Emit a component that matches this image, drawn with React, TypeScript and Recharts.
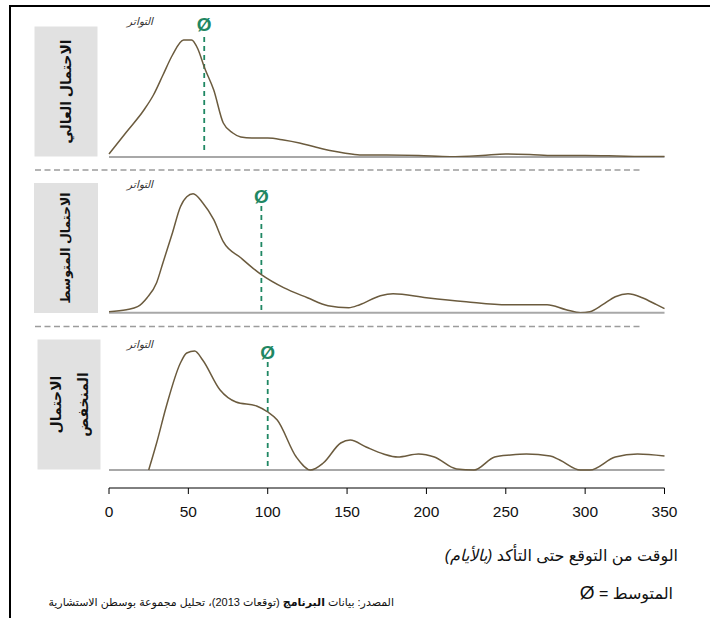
import React from 'react'
import { LineChart, Line, XAxis, YAxis, ReferenceLine, ReferenceDot } from 'recharts'

// days since forecast, and frequency (arbitrary units)
const highDays = [0, 11, 22, 28, 34, 40, 47, 52, 56, 60, 66, 72, 78, 83, 90, 100, 110, 120, 130, 141, 148, 158, 175, 195, 215, 235, 250, 265, 280, 300, 320, 335, 350]
const highFreq = [3, 25, 47, 62, 82, 102, 117, 117, 108, 90, 67, 34, 24, 20, 19, 19, 17, 14, 10, 6, 4, 2, 2, 1.5, 0.3, 1.5, 3, 2.5, 1.5, 1.5, 1, 0.5, 0.5]

const midDays = [0, 11, 18, 24, 30, 34, 40, 45, 49, 53, 59, 66, 72, 83, 96, 110, 125, 138, 151, 158, 171, 179, 200, 225, 251, 276, 288, 297, 303, 311, 319, 327, 336, 345, 350]
const midFreq = [1, 3, 6, 15, 30, 50, 80, 106, 116, 119, 110, 93, 71, 55, 38, 25, 15, 7, 5, 8, 17, 19, 15, 11, 8, 8, 3, 0, 1, 8, 16, 19, 15, 8, 4]

const lowDays = [25, 30, 36, 45, 49, 54, 59, 70, 80, 93, 100, 106, 118, 127, 135, 146, 152, 162, 173, 182, 195, 205, 219, 230, 243, 253, 263, 278, 284, 297, 303, 319, 333, 350]
const lowFreq = [0, 27, 63, 107, 117, 119, 110, 80, 68, 64, 58, 50, 13, 0, 7, 27, 30, 23, 16, 13, 16, 13, 1, 0, 13, 15, 16, 14, 10, 0, 0, 13, 16, 14]

const means = [60, 96, 100]
const panelTitles = ['الاحتمال العالي', 'الاحتمال المتوسط', 'الاحتمال\nالمنخفض']
const xTicks = [0, 50, 100, 150, 200, 250, 300, 350]

const FONT = '"Liberation Sans", Arial, "DejaVu Sans", sans-serif'
const CURVE = '#6b5b3e'
const GREEN = '#1f8763'

const toRows = (days: number[], freq: number[]) => days.map((d, i) => ({ day: d, freq: freq[i] }))

type PanelProps = {
  rows: { day: number; freq: number }[]
  mean: number
  top: number
  height: number
  marginTop: number
  marginBottom: number
  yMin: number
  meanFrom: number
  meanTo: number
  markY: number
  showAxis?: boolean
}

function Panel({ rows, mean, top, height, marginTop, marginBottom, yMin, meanFrom, meanTo, markY, showAxis }: PanelProps) {
  return (
    <div style={{ position: 'absolute', left: 0, top }}>
      <LineChart width={710} height={height} data={rows} margin={{ top: marginTop, right: 45.5, bottom: marginBottom, left: 109 }}>
        <XAxis
          dataKey="day"
          type="number"
          domain={[0, 350]}
          ticks={xTicks}
          hide={!showAxis}
          height={30}
          stroke="#000"
          tickSize={6}
          tickMargin={12}
          tick={{ fill: '#111', fontSize: 15.5, fontFamily: FONT }}
        />
        <YAxis hide domain={[yMin, 120]} allowDataOverflow />
        <ReferenceLine y={0} stroke="#a8a8a8" strokeWidth={2} />
        <ReferenceLine
          segment={[{ x: mean, y: meanFrom }, { x: mean, y: meanTo }]}
          stroke={GREEN}
          strokeWidth={1.8}
          strokeDasharray="5 4"
        />
        <ReferenceDot
          x={mean}
          y={markY}
          r={0}
          ifOverflow="visible"
          shape={(p: any) => (
            <text x={p.cx} y={p.cy + 1} textAnchor="middle" dominantBaseline="central" fill={GREEN} fontSize={19} fontWeight="bold" fontFamily={FONT}>
              Ø
            </text>
          )}
        />
        <Line type="monotone" dataKey="freq" stroke={CURVE} strokeWidth={1.5} dot={false} isAnimationActive={false} connectNulls />
      </LineChart>
    </div>
  )
}

function TitleBox({ cx, cy, w, h, text, size }: { cx: number; cy: number; w: number; h: number; text: string; size: number }) {
  return (
    <div
      dir="rtl"
      style={{
        position: 'absolute',
        left: cx - h / 2,
        top: cy - w / 2,
        width: h,
        height: w,
        background: '#e1e1e1',
        transform: 'rotate(-90deg)',
        display: 'flex',
        alignItems: 'center',
        justifyContent: 'center',
        textAlign: 'center',
        whiteSpace: 'pre',
        fontWeight: 'bold',
        fontSize: size,
        lineHeight: '27px',
        color: '#111',
      }}
    >
      {text}
    </div>
  )
}

const freqLabel = (top: number) => (
  <div dir="rtl" style={{ position: 'absolute', left: 120, width: 40, top, textAlign: 'center', fontSize: 10.5, fontStyle: 'italic', color: '#333' }}>
    التواتر
  </div>
)

export default function App() {
  return (
    <div style={{ position: 'absolute', left: 0, top: 0, width: 710, height: 618, overflow: 'hidden', background: '#fff', fontFamily: FONT }}>
      <div style={{ position: 'absolute', left: 9, top: 5, width: 760, height: 700, border: '2px solid #000', boxSizing: 'border-box' }} />

      <svg style={{ position: 'absolute', left: 0, top: 0 }} width={710} height={618}>
        <line x1={35} x2={642} y1={170} y2={170} stroke="#9c9c9c" strokeWidth={1.5} strokeDasharray="6 3.5" />
        <line x1={35} x2={642} y1={326.5} y2={326.5} stroke="#9c9c9c" strokeWidth={1.5} strokeDasharray="6 3.5" />
      </svg>

      <TitleBox cx={65.5} cy={91} w={63} h={130} size={14} text={panelTitles[0]} />
      <TitleBox cx={66} cy={248} w={64} h={130} size={12.5} text={panelTitles[1]} />
      <TitleBox cx={68.5} cy={404} w={63} h={130} size={14} text={panelTitles[2]} />

      {freqLabel(15)}
      {freqLabel(178)}
      {freqLabel(338)}

      <Panel rows={toRows(highDays, highFreq)} mean={means[0]} top={0} height={165} marginTop={37} marginBottom={8} yMin={0} meanFrom={7} meanTo={120} markY={133.5} />
      <Panel rows={toRows(midDays, midFreq)} mean={means[1]} top={160} height={165} marginTop={32.7} marginBottom={12.3} yMin={0} meanFrom={2.7} meanTo={106.7} markY={117.7} />
      <Panel rows={toRows(lowDays, lowFreq)} mean={means[2]} top={320} height={220} marginTop={30} marginBottom={22} yMin={-18} meanFrom={4} meanTo={108} markY={119} showAxis />

      <div dir="rtl" style={{ position: 'absolute', right: 32, top: 546, fontSize: 16, color: '#111', whiteSpace: 'nowrap' }}>
        الوقت من التوقع حتى التأكد <i>(بالأيام)</i>
      </div>
      <div dir="rtl" style={{ position: 'absolute', right: 37, top: 582, fontSize: 16, color: '#111', whiteSpace: 'nowrap' }}>
        المتوسط = <span style={{ fontSize: 19 }}>Ø</span>
      </div>
      <div dir="rtl" style={{ position: 'absolute', right: 316, top: 596, fontSize: 11, color: '#111', whiteSpace: 'nowrap' }}>
        المصدر: بيانات <b>البرنامج</b> (توقعات 2013)، تحليل مجموعة بوسطن الاستشارية
      </div>
    </div>
  )
}
